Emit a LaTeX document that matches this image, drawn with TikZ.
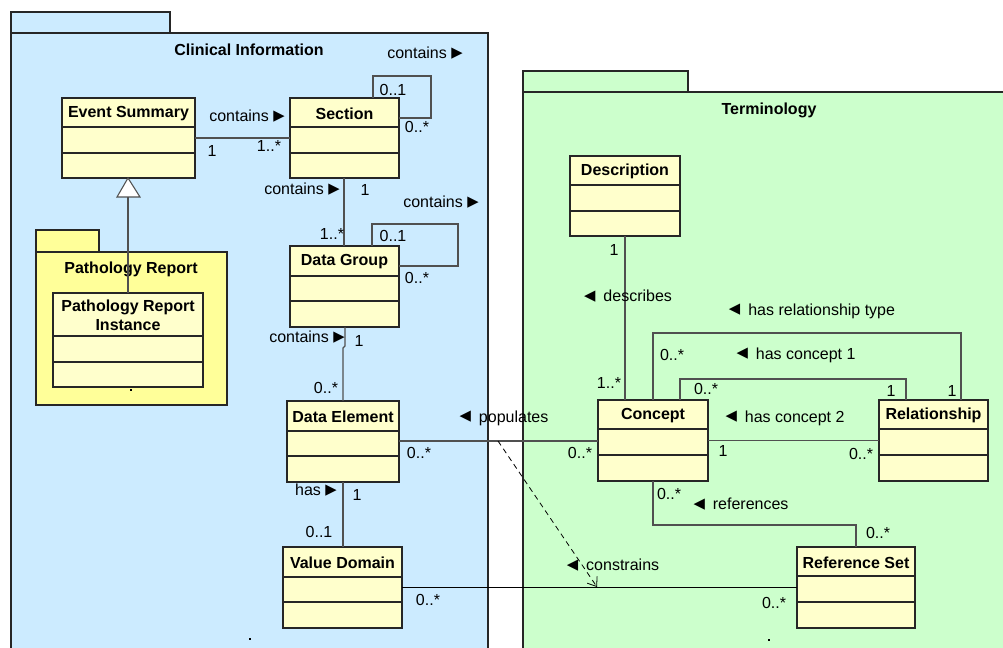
\documentclass[tikz,border=0pt]{standalone}
\usepackage{fontspec}
\setmainfont{Liberation Sans}
\newfontfamily\symfont{DejaVu Sans}
\usetikzlibrary{arrows.meta}

\definecolor{clinfill}{HTML}{CCEBFF}
\definecolor{termfill}{HTML}{CCFFCC}
\definecolor{pkgyellow}{HTML}{FFFF99}
\definecolor{classfill}{HTML}{FFFFCC}
\definecolor{edgegray}{HTML}{505050}

% direction markers for association names
\newcommand\rtri{\raisebox{-0.6pt}{\fontsize{17}{17}\symfont\char"25B8}}
\newcommand\ltri{\raisebox{-0.6pt}{\fontsize{17}{17}\symfont\char"25C2}}

\tikzset{
  pkg/.style={draw=black!85, line width=0.8pt},
  classbox/.style={draw=black!85, fill=classfill, line width=1pt, inner sep=0pt, outer sep=0pt},
  classline/.style={draw=black!85, line width=1pt},
  classname/.style={font=\fontsize{12}{14}\selectfont\bfseries, inner sep=0pt, align=center},
  pkgname/.style={font=\fontsize{12}{14}\selectfont\bfseries, inner sep=0pt},
  lbl/.style={font=\fontsize{12}{14}\selectfont, inner sep=0pt},
  assoc/.style={draw=edgegray, line width=0.8pt},
  dep/.style={draw=black, line width=0.6pt, dash pattern=on 4pt off 3pt,
              -{Straight Barb[length=6pt,width=9pt]}},
  speck/.style={fill=black, inner sep=0pt, minimum width=2.2pt, minimum height=1.5pt},
}

% class symbol: name, x1, y1, x2, y2, first divider, second divider, title
\newcommand\umlclass[8]{%
  \node[classbox, anchor=north west,
        minimum width={(#4-#2)*0.75pt}, minimum height={(#5-#3)*0.75pt}] (#1) at (#2,#3) {};
  \draw[classline] (#2,#6) -- (#4,#6) (#2,#7) -- (#4,#7);
  \node[classname] (#1-title) at ({(#2+#4)/2},{(#3+#6)/2+1}) {#8};
}

\begin{document}
\begin{tikzpicture}[x=0.75pt, y=-0.75pt]
\useasboundingbox (0,0) rectangle (1003,648);
\clip (0,0) rectangle (1003,648);

% ---- packages ----
\path[pkg, fill=clinfill] (11,12) rectangle (170,33);
\path[pkg, fill=clinfill] (11,33) rectangle (488,670);
\node[pkgname] (clintitle) at (249,50) {Clinical Information};

\path[pkg, fill=termfill] (523,71) rectangle (688,92);
\path[pkg, fill=termfill] (523,92) rectangle (1020,670);
\node[pkgname] (termtitle) at (769,110) {Terminology};

\path[pkg, fill=pkgyellow] (36,230) rectangle (99,252);
\path[pkg, fill=pkgyellow] (36,252) rectangle (227,405);
\node[pkgname] (pathtitle) at (131,269) {Pathology Report};

% ---- classes ----
\umlclass{es}{62}{98}{195}{178}{127}{153}{Event Summary}
\umlclass{sec}{290}{98}{399}{178}{127}{153}{Section}
\umlclass{dg}{290}{246}{399}{327}{276}{301}{Data Group}
\umlclass{de}{287}{401}{399}{482}{431}{456}{Data Element}
\umlclass{vd}{283}{547}{402}{628}{577}{602}{Value Domain}
\umlclass{pri}{53}{293}{203}{387}{336}{362}{Pathology Report\\[0pt]Instance}
\umlclass{desc}{570}{156}{680}{236}{185}{211}{Description}
\umlclass{con}{598}{400}{708}{481}{429}{455}{Concept}
\umlclass{rel}{879}{400}{988}{481}{429}{455}{Relationship}
\umlclass{rs}{797}{547}{915}{628}{576}{602}{Reference Set}

% small empty-label marks
\node[speck] (m1) at (131,390) {};
\node[speck] (m2) at (250,639) {};
\node[speck] (m3) at (769,640) {};

% ---- generalization ----
\draw[assoc] (pri.north -| 128,0) -- (128,197);
\draw[assoc, fill=white] (es.south -| 128,0) -- (140,197) -- (117,197) -- cycle;

% ---- associations: clinical information ----
\draw[assoc] (es) -- (sec);
\node[lbl] at (247,116) {contains~\rtri};
\node[lbl] at (212,151) {1};
\node[lbl] at (269,146) {1..*};

\draw[assoc] (sec.north -| 373,0) |- (431,76) |- (sec.east |- 0,118);
\node[lbl] at (425,53) {contains~\rtri};
\node[lbl] at (393,90) {0..1};
\node[lbl] at (417,127) {0..*};

\draw[assoc] (sec.south -| 344,0) -- (dg.north -| 344,0);
\node[lbl] at (302,189) {contains~\rtri};
\node[lbl] at (365,190) {1};
\node[lbl] at (332,234) {1..*};

\draw[assoc] (dg.north -| 372,0) |- (458,224) |- (dg.east |- 0,266);
\node[lbl] at (441,202) {contains~\rtri};
\node[lbl] at (393,236) {0..1};
\node[lbl] at (417,278) {0..*};

\draw[assoc] (dg.south -| 345,0) -- (345,346) -- (343,348) -- (de.north -| 343,0);
\node[lbl] at (307,337) {contains~\rtri};
\node[lbl] at (359,341) {1};
\node[lbl] at (326,388) {0..*};

\draw[assoc] (de.south -| 343,0) -- (vd.north -| 343,0);
\node[lbl] at (316,490) {has~\rtri};
\node[lbl] at (357,495) {1};
\node[lbl] at (319,532) {0..1};

% ---- associations across packages ----
\draw[assoc] (de.east |- 0,441) -- (con.west |- 0,441);
\coordinate (popmid) at (498,441);
\node[lbl] at (504,418) {\ltri\hspace{6pt}populates};
\node[lbl] at (419,453) {0..*};
\node[lbl] at (580,453) {0..*};

\draw[assoc, draw=black] (vd) -- (rs);
\coordinate (conmid) at (597,587);
\node[lbl] at (613,565) {\ltri\hspace{6pt}constrains};
\node[lbl] at (428,600) {0..*};
\node[lbl] at (774,603) {0..*};

\draw[dep] (popmid) -- (conmid);

% ---- associations: terminology ----
\draw[assoc] (desc.south) -- (con.north -| desc.south);
\node[lbl] at (614,250) {1};
\node[lbl] at (628,296) {\ltri\hspace{6pt}describes};
\node[lbl] at (609,383) {1..*};

\draw[assoc] (con.north) |- (961,333) -- (rel.north -| 961,0);
\node[lbl] at (812,311) {\ltri\hspace{6pt}has relationship type};
\node[lbl] at (672,355) {0..*};
\node[lbl] at (952,391) {1};

\draw[assoc] (con.north -| 680,0) |- (906,379) -- (rel.north -| 906,0);
\node[lbl] at (796,355) {\ltri\hspace{6pt}has concept 1};
\node[lbl] at (706,389) {0..*};
\node[lbl] at (891,391) {1};

\draw[assoc] (con.east) -- (rel.west);
\node[lbl] at (785,418) {\ltri\hspace{6pt}has concept 2};
\node[lbl] at (723,451) {1};
\node[lbl] at (861,454) {0..*};

\draw[assoc] (con.south) |- (856,525) -- (rs.north);
\node[lbl] at (669,494) {0..*};
\node[lbl] at (741,504) {\ltri\hspace{6pt}references};
\node[lbl] at (878,533) {0..*};
\end{tikzpicture}
\end{document}
